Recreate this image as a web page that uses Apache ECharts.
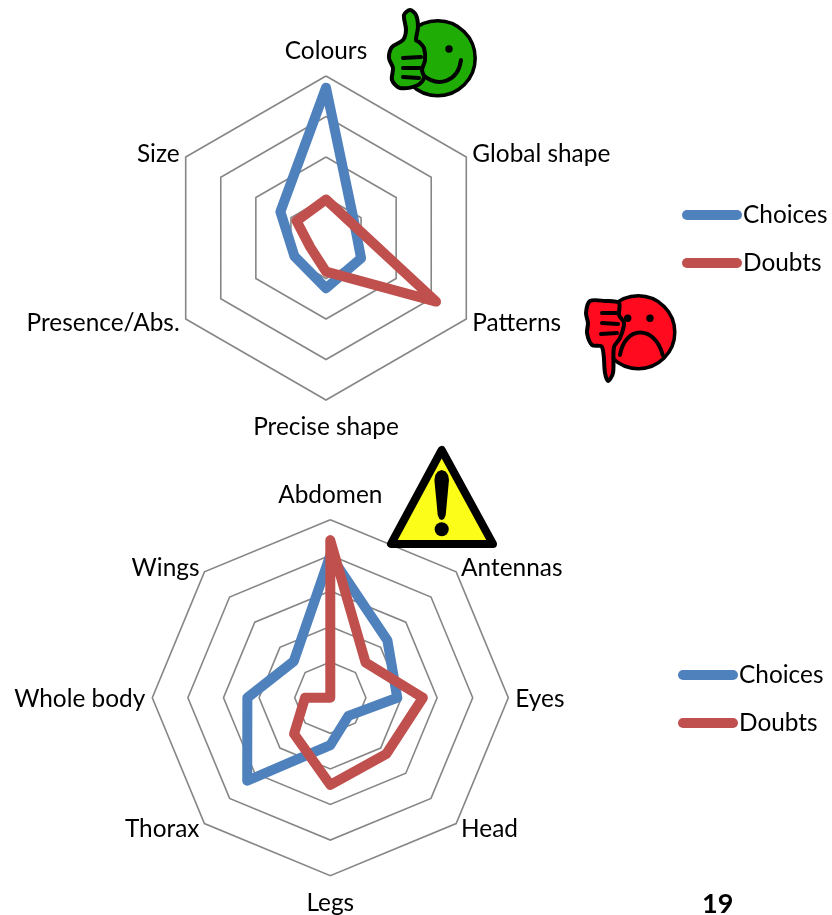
<!DOCTYPE html>
<html>
<head>
<meta charset="utf-8">
<title>Radar charts</title>
<script src="https://cdn.jsdelivr.net/npm/echarts@6/dist/echarts.min.js"></script>
<style>
  html, body { margin: 0; padding: 0; background: #fff; }
  #chart { width: 832px; height: 915px; }
</style>
</head>
<body>
<div id="chart"></div>
<script>
// top radar, clockwise from the top
var topAxes = ['Colours', 'Global shape', 'Patterns', 'Precise shape', 'Presence/Abs.', 'Size'];
var topChoices = [3.71, 0.8, 1.0, 1.24, 0.9, 1.3];
var topDoubts = [0.95, 0.73, 3.14, 0.83, 0.45, 0.84];

// bottom radar, clockwise from the top
var bottomAxes = ['Abdomen', 'Antennas', 'Eyes', 'Head', 'Legs', 'Thorax', 'Whole body', 'Wings'];
var bottomChoices = [4.0, 2.27, 1.88, 0.72, 1.33, 3.3, 2.33, 1.45];
var bottomDoubts = [4.42, 1.4, 2.6, 2.23, 2.45, 1.44, 0.71, 0];

var seriesNames = ['Choices', 'Doubts'];
var blue = '#4f81bd';
var red = '#c0504d';
var gray = '#868686';
var labelFont = 'Lato';
var labelSize = 24.4;
var lineWidth = 10;

// echarts lays the indicators out anticlockwise, so flip everything after the first
function flip(list) {
  return [list[0]].concat(list.slice(1).reverse());
}

function nameStyle(padding) {
  return { padding: padding, fontFamily: labelFont, fontSize: labelSize, color: '#000' };
}

function radar(center, radius, names, rings) {
  var top = names[0];
  var bottom = names[names.length / 2];
  return {
    center: center,
    radius: radius,
    startAngle: 90,
    splitNumber: rings,
    indicator: flip(names).map(function (n) { return { name: n, min: 0, max: rings }; }),
    nameGap: 7,
    axisName: {
      color: '#000',
      fontFamily: labelFont,
      fontSize: labelSize,
      rich: {
        up: nameStyle([0, 0, 6, 0]),
        down: nameStyle([8, 0, 0, 0]),
        side: nameStyle([2, 0, 0, 0])
      },
      formatter: function (n) {
        if (n === top) return '{up|' + n + '}';
        if (n === bottom) return '{down|' + n + '}';
        return '{side|' + n + '}';
      }
    },
    axisLine: { show: false },
    axisTick: { show: false },
    splitArea: { show: false },
    splitLine: { lineStyle: { color: gray, width: 1.6 } }
  };
}

function radarLine(color) {
  return { color: color, width: lineWidth, join: 'round', cap: 'round' };
}

function radarSeries(index, choices, doubts) {
  return {
    type: 'radar',
    radarIndex: index,
    symbol: 'none',
    silent: true,
    data: [
      { name: seriesNames[0], value: flip(choices), itemStyle: { color: blue }, lineStyle: radarLine(blue) },
      { name: seriesNames[1], value: flip(doubts), itemStyle: { color: red }, lineStyle: radarLine(red) }
    ]
  };
}

function legend(left, top) {
  return {
    data: seriesNames,
    left: left,
    top: top,
    padding: 0,
    orient: 'vertical',
    itemGap: 24,
    itemWidth: 60,
    itemHeight: 10,
    icon: 'path://M5,0 H55 A5,5 0 0 1 55,10 H5 A5,5 0 0 1 5,0 Z',
    symbolKeepAspect: false,
    selectedMode: false,
    textStyle: { color: '#000', fontFamily: labelFont, fontSize: labelSize, padding: [0, 0, 0, -4] }
  };
}

// pictograms
var black = '#000';
var green = '#1fac05';
var alarm = '#ff0a1e';
var yellow = '#fdfd1a';

var thumbUp = [[410, 10], [404, 15], [406, 30], [403, 40], [392, 47], [389, 58], [393, 68], [392, 80], [400, 88], [418, 85], [424, 78], [422, 70], [425, 60], [424, 48], [419, 42], [416, 40], [418, 27], [416, 15]];
var thumbDown = [[590, 301], [586, 313], [588, 323], [587, 333], [592, 345], [602, 347], [605, 373], [608, 381], [613, 373], [614, 347], [620, 338], [624, 323], [619, 315], [619, 303], [605, 301]];
var warnBody = [[434.4, 480], [435.3, 475], [437.8, 471.5], [441.7, 470], [445.6, 471.5], [448.1, 475], [449, 480], [445.7, 515], [444, 519], [441.7, 520], [439.4, 519], [437.7, 515]];

function stroke(width) {
  return { fill: 'none', stroke: black, lineWidth: width, lineCap: 'round' };
}
function finger(x1, y1, x2, y2) {
  return { type: 'polyline', z: 20, shape: { points: [[x1, y1], [x2, y2]] }, style: stroke(4) };
}
function curve(x1, y1, a, b, c, d, x2, y2) {
  return { type: 'bezierCurve', z: 20, shape: { x1: x1, y1: y1, x2: x2, y2: y2, cpx1: a, cpy1: b, cpx2: c, cpy2: d }, style: stroke(4) };
}
function dot(x, y, r, fill) {
  return { type: 'circle', z: 20, shape: { cx: x, cy: y, r: r }, style: { fill: fill || black } };
}

var pictures = [
  // happy face
  { type: 'circle', z: 20, shape: { cx: 437.7, cy: 58.3, r: 37.5 }, style: { fill: green, stroke: black, lineWidth: 3.5 } },
  dot(449, 49, 3.7),
  curve(461, 60, 458, 82, 438, 88, 423, 75),
  { type: 'polygon', z: 20, shape: { points: thumbUp, smooth: 0.3 }, style: { fill: green, stroke: black, lineWidth: 4 } },
  finger(403, 58, 421, 57),
  finger(403, 68, 421, 68),
  finger(403, 77, 419, 78),
  // sad face
  { type: 'circle', z: 20, shape: { cx: 638.3, cy: 332.3, r: 36.5 }, style: { fill: alarm, stroke: black, lineWidth: 3.5 } },
  dot(627.7, 318.3, 3.7),
  dot(650, 318.3, 3.7),
  curve(620, 355, 625, 325, 655, 325, 662.7, 355),
  { type: 'polygon', z: 20, shape: { points: thumbDown, smooth: 0.3 }, style: { fill: alarm, stroke: black, lineWidth: 4 } },
  finger(602, 313, 617, 313),
  finger(602, 323, 618, 324),
  finger(601, 334, 617, 333),
  // warning sign
  { type: 'polygon', z: 20, shape: { points: [[441.7, 450], [391, 544], [493, 544]] }, style: { fill: yellow, stroke: black, lineWidth: 8, lineJoin: 'round' } },
  { type: 'polygon', z: 21, shape: { points: warnBody }, style: { fill: black } },
  dot(441.7, 529.3, 7),
  // page number
  { type: 'text', z: 20, left: 702, top: 891, style: { text: '19', fill: black, font: 'bold 27px ' + labelFont } }
];

var chart = echarts.init(document.getElementById('chart'), null, { renderer: 'canvas' });
chart.setOption({
  animation: false,
  backgroundColor: '#fff',
  legend: [legend(682, 203), legend(678, 663)],
  radar: [
    radar([326, 238], 162, topAxes, 4),
    radar([330.3, 697.7], 178, bottomAxes, 5)
  ],
  series: [
    radarSeries(0, topChoices, topDoubts),
    radarSeries(1, bottomChoices, bottomDoubts)
  ],
  graphic: pictures
});
window.addEventListener('resize', function () { chart.resize(); });
</script>
</body>
</html>
